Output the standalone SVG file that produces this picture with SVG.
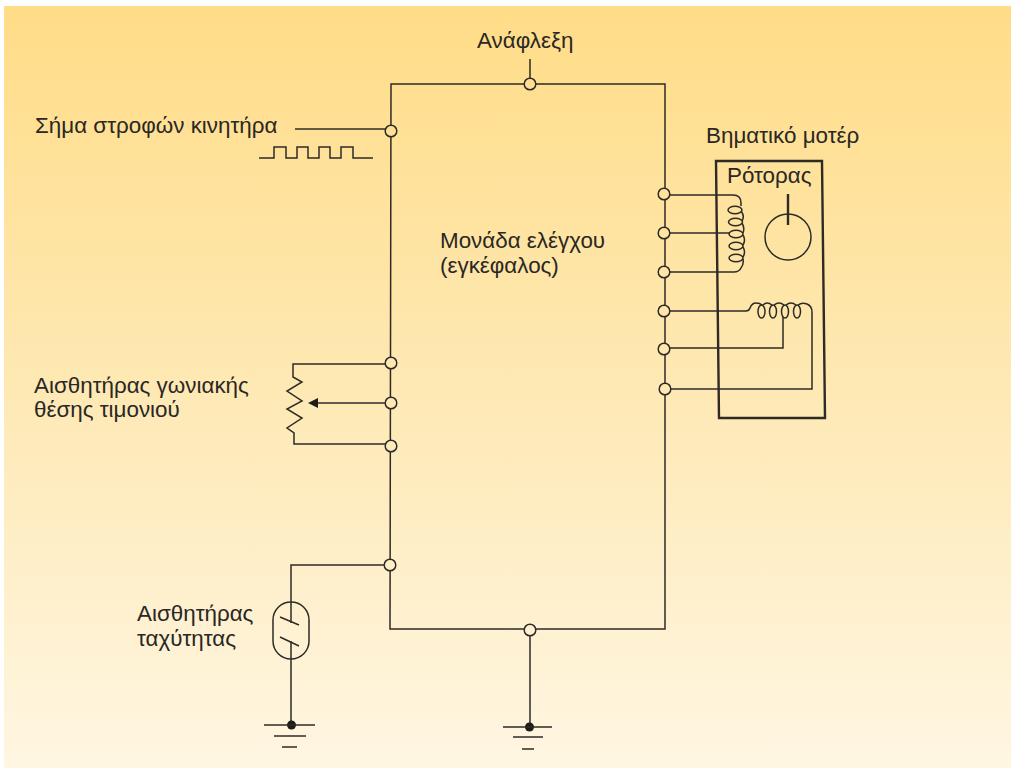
<svg xmlns="http://www.w3.org/2000/svg" width="1013" height="772" viewBox="0 0 1013 772">
<defs>
<linearGradient id="bg" gradientUnits="userSpaceOnUse" x1="0" y1="6" x2="0" y2="768"><stop offset="0" stop-color="#ffdc87"/><stop offset="0.5" stop-color="#fee9b4"/><stop offset="1" stop-color="#fff6e2"/></linearGradient>
</defs>
<style>
text{font-family:"Liberation Sans",Arial,sans-serif;font-size:22.4px;fill:#2a2724}
.w{fill:none;stroke:#2e2b27;stroke-width:1.5}
.t{fill:url(#bg);stroke:#2e2b27;stroke-width:1.5}
.b{fill:none;stroke:#2e2b27;stroke-width:2.4}
.d{fill:#1f1c18;stroke:none}
</style>
<rect x="4" y="6" width="1007" height="762" fill="url(#bg)"/>
<g id="connectors">
<path class="w" d="M391 84H665V629H390Z"/>
<path class="w" d="M530 59V84M530 629V726"/>
<path class="w" d="M295 129H391"/>
<path class="w" d="M259 158H274V147H286V158H297V147H308V158H319V147H330V158H341V147H353V158H373"/>
<path class="w" d="M391 364H293V377L302 382L287 391L302 401L287 409L302 418L287 428L294 433V444H391"/>
<path class="w" d="M391 403H318"/>
<path class="d" d="M308 403L318 398V408Z"/>
<path class="w" d="M391 565H291V623M291 641V725"/>
<path class="w" d="M665 195H733Q741 195 741 203V206"/>
<ellipse class="w" cx="735" cy="210" rx="7" ry="3.8"/>
<ellipse class="w" cx="735.5" cy="222" rx="7" ry="3.8"/>
<ellipse class="w" cx="736" cy="234" rx="7" ry="3.8"/>
<ellipse class="w" cx="736" cy="246" rx="7" ry="3.8"/>
<ellipse class="w" cx="736" cy="258" rx="7" ry="3.8"/>
<path class="w" d="M741 211Q745 216 742 221M742 223Q745 228 743 233M743 235Q746 240 743 245M743 247Q746 252 743 257M743 259Q744 264 741 268Q739 272 734 272H665"/>
<path class="w" d="M665 233H730"/>
<ellipse class="w" cx="761.5" cy="311.500" rx="3.500" ry="6.500"/>
<ellipse class="w" cx="773" cy="311.500" rx="3.500" ry="6.500"/>
<ellipse class="w" cx="785" cy="311.500" rx="3.500" ry="6.500"/>
<ellipse class="w" cx="797" cy="311.500" rx="3.500" ry="6.500"/>
<path class="w" d="M665 311H746Q749 311 750 308Q752 303 756 303Q760 303 762 305M763 305Q767 301 772 305M774 305Q779 301 784 305M786 305Q791 301 796 305M798 305Q802 302 807 304Q812 306 812 312V389H665"/>
<path class="w" d="M665 348H783V317"/>
</g>
<g id="node-control-unit"><text x="440" y="248">Μονάδα ελέγχου</text><text x="440" y="273">(εγκέφαλος)</text></g>
<g id="node-ignition"><text x="477" y="48">Ανάφλεξη</text><circle class="t" cx="530" cy="84" r="5.800"/></g>
<g id="node-rpm"><text x="35" y="133">Σήμα στροφών κινητήρα</text><circle class="t" cx="391" cy="131" r="5.800"/></g>
<g id="node-angle"><text x="34" y="393">Αισθητήρας γωνιακής</text><text x="34" y="417">θέσης τιμονιού</text>
<circle class="t" cx="391" cy="363" r="5.800"/><circle class="t" cx="391" cy="403" r="5.800"/><circle class="t" cx="391" cy="446" r="5.800"/></g>
<g id="node-speed"><text x="137" y="621">Αισθητήρας</text><text x="137" y="646">ταχύτητας</text>
<circle class="t" cx="390" cy="565" r="5.800"/>
<rect class="w" x="273" y="602" width="36" height="57" rx="18" ry="18"/>
<path class="w" d="M280 617L299 625M280 637L299 646"/>
<circle class="d" cx="291.500" cy="725" r="4.500"/>
<path class="w" d="M264 725H315M274 736H306M282 747H297"/></g>
<g id="node-motor"><text x="706" y="143">Βηματικό μοτέρ</text><text x="727" y="183">Ρότορας</text>
<path class="b" d="M716 161H822L825 418H719Z"/>
<circle class="w" cx="788" cy="237" r="23"/>
<path class="b" d="M788 194V225"/>
<circle class="t" cx="664" cy="194" r="5.800"/><circle class="t" cx="664" cy="233" r="5.800"/><circle class="t" cx="664" cy="272" r="5.800"/><circle class="t" cx="664" cy="311" r="5.800"/><circle class="t" cx="664" cy="349" r="5.800"/><circle class="t" cx="665" cy="389" r="5.800"/></g>
<g id="node-ground"><circle class="t" cx="530" cy="630" r="5.800"/>
<circle class="d" cx="529.500" cy="727" r="4.500"/>
<path class="w" d="M503 727H552M513 737H543M522 749H534"/></g>
</svg>
